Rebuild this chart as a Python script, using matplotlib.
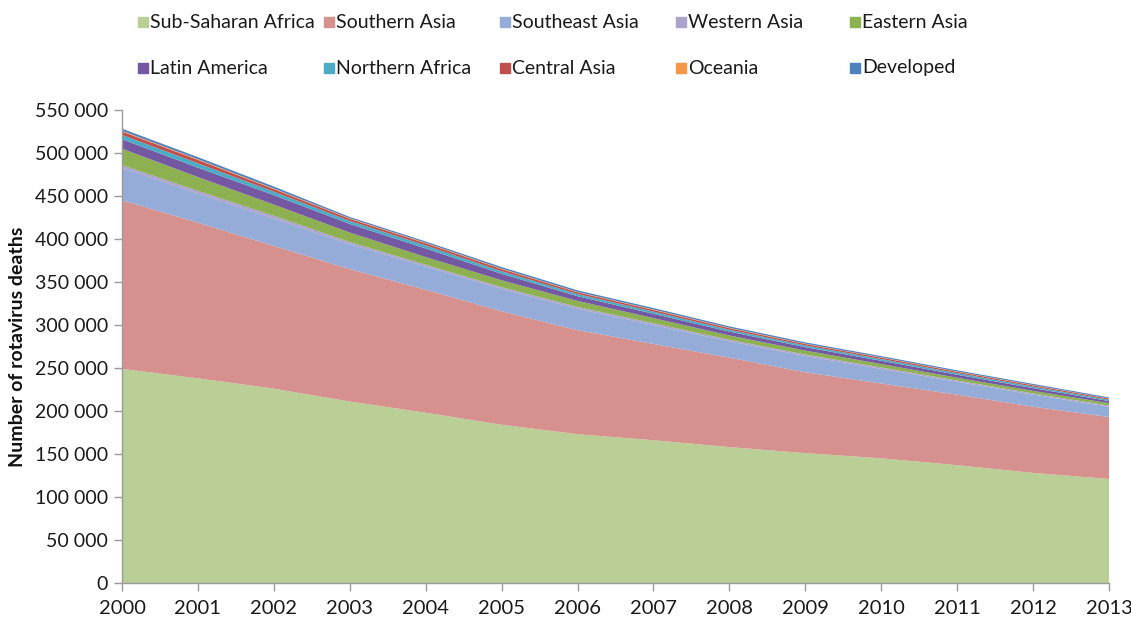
import matplotlib
matplotlib.use("Agg")
import matplotlib.pyplot as plt
from matplotlib.patches import Rectangle
from matplotlib.ticker import FuncFormatter, MultipleLocator

years = list(range(2000, 2014))
series_names = ["Sub-Saharan Africa", "Southern Asia", "Southeast Asia", "Western Asia",
                "Eastern Asia", "Latin America", "Northern Africa", "Central Asia",
                "Oceania", "Developed"]
# values in thousands of deaths
sub_saharan = [249, 238, 226, 211, 198, 184, 173, 166, 158, 151, 145, 137, 128, 121]
southern_asia = [196, 181, 166, 154, 143, 132, 121, 112, 104, 94, 87, 82, 77, 72]
southeast_asia = [38, 34, 32, 29, 27, 26, 25, 22, 19, 19, 17, 15, 14, 12]
western_asia = [3, 3, 3, 2.5, 2, 2, 2, 2, 1.8, 1.7, 1.6, 1.5, 1.4, 1.3]
eastern_asia = [19, 16, 13, 11, 9, 8, 7, 6, 5, 4.5, 4, 3.2, 3, 2.8]
latin_america = [11, 11, 11, 10, 10, 7.5, 5.5, 5, 4.5, 4, 3.8, 3.5, 3.2, 2.5]
northern_africa = [5, 5, 4, 3.5, 3.5, 3, 2.5, 2.5, 2.2, 2, 2, 1.9, 1.8, 1.5]
central_asia = [4, 4, 3, 2.5, 2.5, 2.5, 2, 2, 1.8, 1.7, 1.6, 1.5, 1.4, 1.2]
oceania = [0.8, 0.8, 0.7, 0.6, 0.6, 0.6, 0.5, 0.5, 0.5, 0.4, 0.4, 0.4, 0.4, 0.3]
developed = [2.5, 2.4, 2.3, 1.5, 1.5, 1.8, 1.8, 1.7, 1.6, 1.5, 1.4, 1.3, 1.3, 1.2]

series = [sub_saharan, southern_asia, southeast_asia, western_asia, eastern_asia,
          latin_america, northern_africa, central_asia, oceania, developed]
colors = ["#b9cf96", "#d6918f", "#95acd8", "#aca3cd", "#8db051",
          "#7458a1", "#4bacc6", "#c0504d", "#f79646", "#4f81bd"]

plt.rcParams['font.family'] = ['Lato', 'DejaVu Sans']

W, H = 1131, 626
fig = plt.figure(figsize=(W / 100, H / 100), dpi=100)
ax = fig.add_axes([122 / W, 1 - 583 / H, (1109 - 122) / W, (583 - 110) / H])

vals = [[v * 1000 for v in s] for s in series]
ax.stackplot(years, *vals, colors=colors, linewidth=0)

ax.set_xlim(2000, 2013)
ax.set_ylim(0, 550000)
ax.yaxis.set_major_locator(MultipleLocator(50000))
ax.xaxis.set_major_locator(MultipleLocator(1))
ax.yaxis.set_major_formatter(FuncFormatter(lambda v, p: f"{int(v):,}".replace(",", " ")))
ax.xaxis.set_major_formatter(FuncFormatter(lambda v, p: f"{int(v)}"))

for s in ["top", "right"]:
    ax.spines[s].set_visible(False)
for s in ["left", "bottom"]:
    ax.spines[s].set_color("#9a9a9a")
    ax.spines[s].set_linewidth(1.0)
ax.tick_params(axis="both", colors="#9a9a9a", length=6, width=1.0, labelcolor="#1a1a1a",
               labelsize=14)
ax.tick_params(axis="x", pad=6, labelsize=14.5)
ax.tick_params(axis="y", pad=4)

ax.set_ylabel("Number of rotavirus deaths", fontsize=14, fontweight="bold", color="#111111")
ax.yaxis.set_label_coords(-0.097, 0.5)

# manual legend laid out like the original (two rows of five)
col_x = [138, 324, 500, 676, 850]
row_y = [22, 68]
for i, (name, c) in enumerate(zip(series_names, colors)):
    r, k = divmod(i, 5)
    x = col_x[k]
    y = row_y[r]
    fig.patches.append(Rectangle((x / W, 1 - (y + 5) / H), 10 / W, 10 / H,
                                 transform=fig.transFigure, color=c, figure=fig))
    fig.text((x + 12) / W, 1 - y / H, name, fontsize=14, va="center", ha="left",
             color="#1a1a1a")

fig.savefig("out.png", dpi=100)
